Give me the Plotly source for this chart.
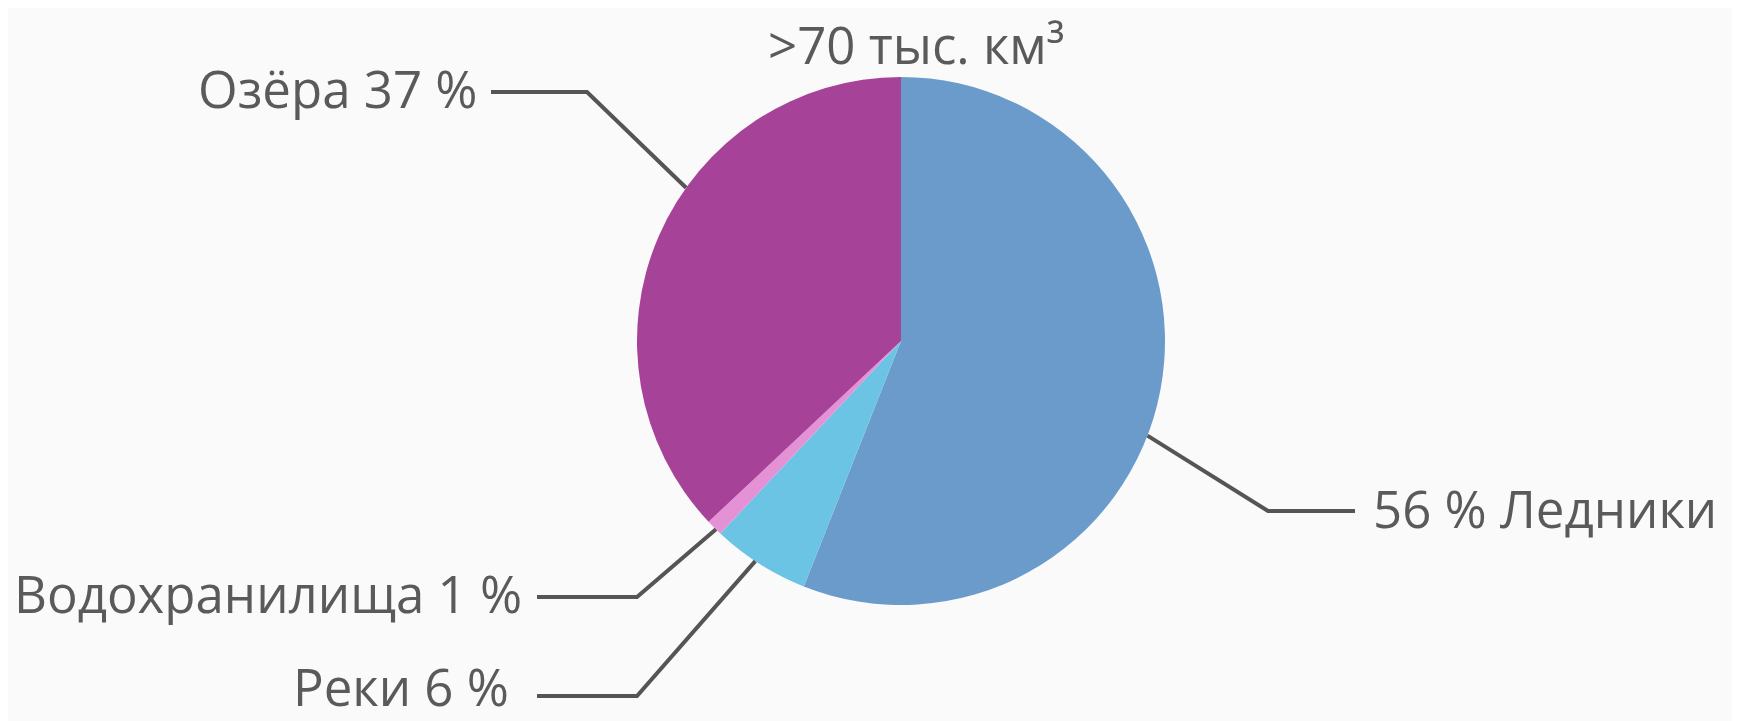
import math
import plotly.graph_objects as go

# ---- data ----
categories = ["Ледники", "Реки", "Водохранилища", "Озёра"]
values = [56, 6, 1, 37]
label_texts = ["56 % Ледники", "Реки 6 %", "Водохранилища 1 %", "Озёра 37 %"]
colors = ["#6b9bcb", "#6cc4e4", "#e591d6", "#a64298"]
title_text = ">70 тыс. км³"

# ---- layout constants (pixels) ----
W, H = 1740, 721
CX, CY, R = 893, 333, 264          # pie centre / radius in pixels
# angle (deg, clockwise from 12 o'clock) where each leader touches the pie
leader_angle = [111, 213.5, 224.5, 305.5]
# elbow / label anchor positions
elbow = [(1260, 503), (629, 688), (629, 589), (579, 84)]
line_end = [(1347, 503), (529, 688), (529, 589), (483, 84)]
label_pos = [(1364, 500, "left", "middle"), (502, 721, "right", "bottom"),
             (515, 585, "right", "middle"), (470, 80, "right", "middle")]

def px(x):
    return x / W

def py(y):
    return 1 - y / H

fig = go.Figure()
fig.add_trace(go.Pie(
    labels=categories, values=values, sort=False, direction="clockwise",
    rotation=0, marker=dict(colors=colors, line=dict(width=0)),
    textinfo="none", hoverinfo="label+percent", showlegend=False,
    domain=dict(x=[px(CX - R), px(CX + R)], y=[py(CY + R), py(CY - R)]),
))

shapes = []
annotations = []
for i, cat in enumerate(categories):
    a = math.radians(leader_angle[i])
    sx = CX + R * math.sin(a)
    sy = CY - R * math.cos(a)
    ex, ey = elbow[i]
    lx, ly = line_end[i]
    path = f"M {px(sx)},{py(sy)} L {px(ex)},{py(ey)} L {px(lx)},{py(ly)}"
    shapes.append(dict(type="path", xref="paper", yref="paper", path=path,
                       line=dict(color="#555555", width=4)))
    tx, ty, xa, ya = label_pos[i]
    annotations.append(dict(x=px(tx), y=py(ty), xref="paper", yref="paper",
                            text=label_texts[i], showarrow=False,
                            xanchor=xa, yanchor=ya, borderpad=0,
                            yshift=7 if ya == "bottom" else 0,
                            font=dict(family="Open Sans", size=51, color="#5a5a5a")))

annotations.append(dict(x=px(908), y=1, xref="paper", yref="paper",
                        text=title_text, showarrow=False, xanchor="center",
                        yanchor="top", borderpad=0, yshift=0,
                        font=dict(family="Open Sans", size=51, color="#5a5a5a")))

fig.update_layout(
    width=W, height=H,
    margin=dict(l=0, r=0, t=0, b=0),
    paper_bgcolor="#fafafa", plot_bgcolor="#fafafa",
    shapes=shapes, annotations=annotations,
)

fig.write_html("out.html")
